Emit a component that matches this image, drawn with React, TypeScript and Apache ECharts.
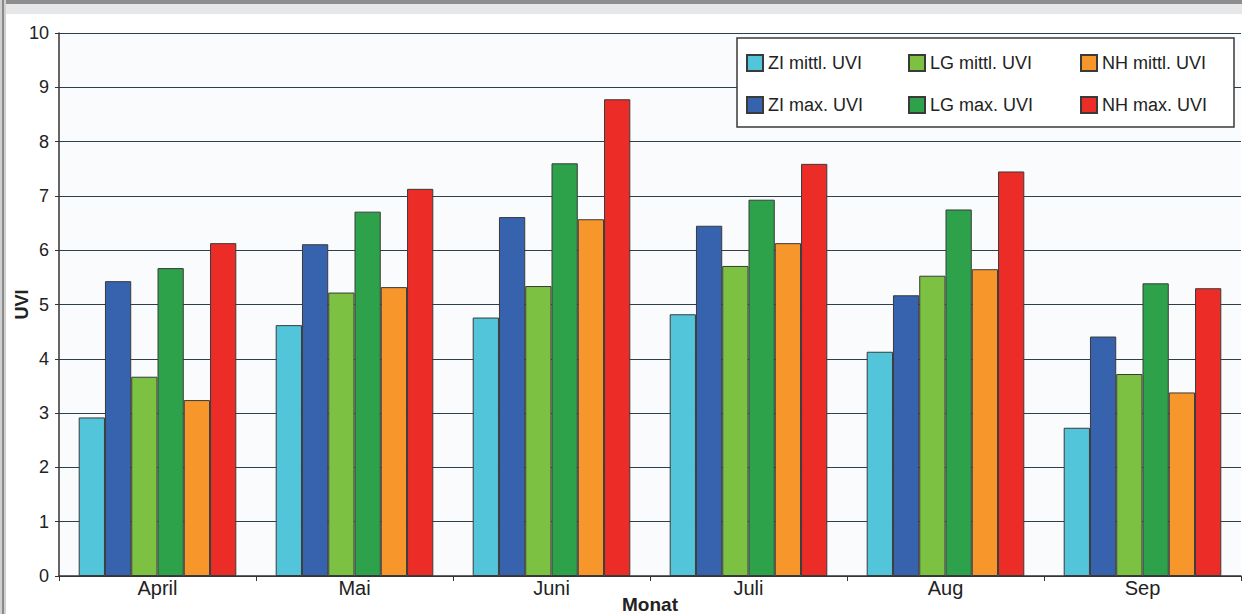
import React, { useEffect, useRef } from "react";
import * as echarts from "echarts";

const months = ["April", "Mai", "Juni", "Juli", "Aug", "Sep"];
const seriesNames = [
  "ZI mittl. UVI",
  "ZI max. UVI",
  "LG mittl. UVI",
  "LG max. UVI",
  "NH mittl. UVI",
  "NH max. UVI",
];
const ziMittl = [2.92, 4.62, 4.76, 4.82, 4.13, 2.73];
const ziMax = [5.43, 6.11, 6.61, 6.45, 5.17, 4.41];
const lgMittl = [3.67, 5.22, 5.34, 5.71, 5.53, 3.72];
const lgMax = [5.67, 6.71, 7.6, 6.93, 6.75, 5.39];
const nhMittl = [3.24, 5.32, 6.57, 6.13, 5.65, 3.38];
const nhMax = [6.13, 7.13, 8.78, 7.59, 7.45, 5.3];
const seriesData = [ziMittl, ziMax, lgMittl, lgMax, nhMittl, nhMax];
const colors = ["#52c5da", "#3762ad", "#7cc142", "#2ea24a", "#f7962b", "#ec2c26"];

const FONT = "'Liberation Sans', Arial, sans-serif";

// legend layout: column x for each series, row y
const legendCols = [746, 746, 908, 908, 1080, 1080];
const legendRows = [54, 96, 54, 96, 54, 96];

export default function App() {
  const ref = useRef<HTMLDivElement>(null);
  useEffect(() => {
    if (!ref.current) return;
    const chart = echarts.init(ref.current, null, { renderer: "svg" });
    chart.setOption({
      animation: false,
      backgroundColor: "#ffffff",
      textStyle: { fontFamily: FONT },
      graphic: [
        { type: "rect", shape: { x: 0, y: 0, width: 1242, height: 4 }, style: { fill: "#8e8e8e" }, z: 100 },
        { type: "rect", shape: { x: 0, y: 4, width: 1242, height: 10 }, style: { fill: "#e6e7e9" }, z: 100 },
        { type: "rect", shape: { x: 0, y: 0, width: 6, height: 614 }, style: { fill: "#d0d0d0" }, z: 100 },
        { type: "rect", shape: { x: 2, y: 0, width: 2, height: 614 }, style: { fill: "#8a8a8a" }, z: 101 },
        {
          type: "rect",
          shape: { x: 737, y: 38, width: 497, height: 89 },
          style: { fill: "#ffffff", stroke: "#3a3a3a", lineWidth: 1.5 },
          z: 50,
        },
      ],
      legend: seriesNames.map((name, i) => ({
        data: [name],
        left: legendCols[i],
        top: legendRows[i],
        padding: 0,
        itemWidth: 16,
        itemHeight: 16,
        itemGap: 5,
        icon: "rect",
        textStyle: { fontFamily: FONT, fontSize: 18, color: "#222" },
        z: 60,
      })),
      grid: {
        left: 59,
        top: 33,
        right: 1,
        bottom: 38,
        containLabel: false,
        outerBoundsMode: "none",
        show: true,
        backgroundColor: "#fafbfd",
        borderWidth: 0,
      },
      xAxis: {
        type: "category",
        data: months,
        name: "Monat",
        nameLocation: "middle",
        nameGap: 19,
        nameMoveOverlap: false,
        nameTextStyle: { fontFamily: FONT, fontSize: 19, fontWeight: "bold", color: "#222" },
        axisLine: { lineStyle: { color: "#333", width: 1.5 } },
        axisTick: { show: true, length: 5, lineStyle: { color: "#333" } },
        axisLabel: { fontFamily: FONT, fontSize: 20, color: "#222", margin: 2 },
      },
      yAxis: {
        type: "value",
        min: 0,
        max: 10,
        interval: 1,
        name: "UVI",
        nameLocation: "middle",
        nameGap: 28,
        nameMoveOverlap: false,
        nameRotate: 90,
        nameTextStyle: { fontFamily: FONT, fontSize: 18, fontWeight: "bold", color: "#222" },
        axisLine: { show: true, lineStyle: { color: "#333", width: 1.5 } },
        axisTick: { show: true, length: 4, lineStyle: { color: "#333" } },
        axisLabel: { fontFamily: FONT, fontSize: 18, color: "#222", margin: 10 },
        splitLine: { show: true, lineStyle: { color: "#2f3f4a", width: 1.2 } },
      },
      series: seriesNames.map((name, i) => ({
        name,
        type: "bar",
        data: seriesData[i],
        barGap: "0%",
        barCategoryGap: "20%",
        itemStyle: { color: colors[i], borderColor: "#3a3a3a", borderWidth: 1 },
      })),
    });
    return () => chart.dispose();
  }, []);
  return (
    <div
      ref={ref}
      style={{ position: "absolute", left: 0, top: 0, width: 1242, height: 614 }}
    />
  );
}
